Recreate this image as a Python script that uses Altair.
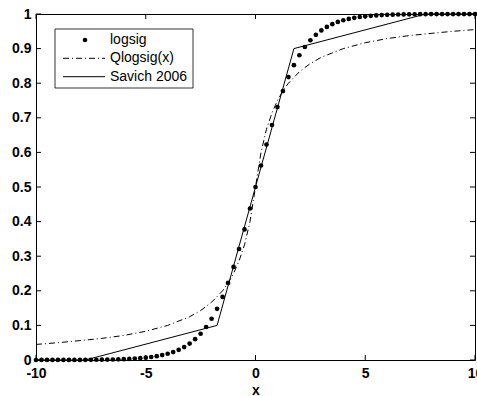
import altair as alt
import pandas as pd

# ---- data ----
x_logsig = [-10, -9.75, -9.5, -9.25, -9, -8.75, -8.5, -8.25, -8, -7.75,
            -7.5, -7.25, -7, -6.75, -6.5, -6.25, -6, -5.75, -5.5, -5.25,
            -5, -4.75, -4.5, -4.25, -4, -3.75, -3.5, -3.25, -3, -2.75,
            -2.5, -2.25, -2, -1.75, -1.5, -1.25, -1, -0.75, -0.5, -0.25,
            0,
            0.25, 0.5, 0.75, 1, 1.25, 1.5, 1.75, 2, 2.25, 2.5,
            2.75, 3, 3.25, 3.5, 3.75, 4, 4.25, 4.5, 4.75, 5,
            5.25, 5.5, 5.75, 6, 6.25, 6.5, 6.75, 7, 7.25, 7.5,
            7.75, 8, 8.25, 8.5, 8.75, 9, 9.25, 9.5, 9.75, 10]
y_logsig = [0.0000, 0.0001, 0.0001, 0.0001, 0.0001, 0.0002, 0.0002, 0.0003, 0.0003, 0.0004,
            0.0006, 0.0007, 0.0009, 0.0012, 0.0015, 0.0019, 0.0025, 0.0032, 0.0041, 0.0052,
            0.0067, 0.0086, 0.0110, 0.0141, 0.0180, 0.0230, 0.0293, 0.0373, 0.0474, 0.0601,
            0.0759, 0.0953, 0.1192, 0.1480, 0.1824, 0.2227, 0.2689, 0.3208, 0.3775, 0.4378,
            0.5,
            0.5622, 0.6225, 0.6792, 0.7311, 0.7773, 0.8176, 0.8520, 0.8808, 0.9047, 0.9241,
            0.9399, 0.9526, 0.9627, 0.9707, 0.9770, 0.9820, 0.9859, 0.9890, 0.9914, 0.9933,
            0.9948, 0.9959, 0.9968, 0.9975, 0.9981, 0.9985, 0.9988, 0.9991, 0.9993, 0.9994,
            0.9996, 0.9997, 0.9997, 0.9998, 0.9998, 0.9999, 0.9999, 0.9999, 0.9999, 1.0000]

x_qlogsig = [-10, -9, -8, -7, -6, -5, -4, -3, -2.5, -2, -1.5, -1.25, -1, -0.75, -0.5, -0.25,
             0, 0.25, 0.5, 0.75, 1, 1.25, 1.5, 2, 2.5, 3, 4, 5, 6, 7, 8, 9, 10]
y_qlogsig = [0.045, 0.05, 0.056, 0.0625, 0.071, 0.083, 0.1, 0.125, 0.143, 0.167, 0.2, 0.222,
             0.25, 0.286, 0.333, 0.4, 0.5, 0.6, 0.667, 0.714, 0.75, 0.778, 0.8, 0.833, 0.857,
             0.875, 0.9, 0.917, 0.929, 0.9375, 0.944, 0.95, 0.955]

x_savich = [-10, -7.75, -1.75, 1.75, 7.75, 10]
y_savich = [0, 0, 0.1, 0.9, 1.0, 1.0]

x_ticks = [-10, -5, 0, 5, 10]
y_ticks = [0, 0.1, 0.2, 0.3, 0.4, 0.5, 0.6, 0.7, 0.8, 0.9, 1]
legend_labels = ["logsig", "Qlogsig(x)", "Savich 2006"]

# ---- chart ----
W, H = 439, 346
FONT = "Liberation Sans"
xs = alt.Scale(domain=[-10, 10], nice=False, zero=False)
ys = alt.Scale(domain=[0, 1], nice=False, zero=False)

x_axis = alt.Axis(values=x_ticks, labelExpr="toString(datum.value)", labelFont=FONT,
                  labelFontWeight="bold", labelFontSize=14, labelColor="black",
                  tickSize=0, domain=False, grid=False, labelPadding=6,
                  labelFlush=False, labelOverlap=False,
                  title="x", titleFont=FONT, titleFontWeight="bold", titleFontSize=14,
                  titleColor="black", titlePadding=3)
y_axis = alt.Axis(values=y_ticks, labelExpr="toString(datum.value)", labelFont=FONT,
                  labelFontWeight="bold", labelFontSize=14, labelColor="black",
                  tickSize=0, domain=False, grid=False, labelPadding=5,
                  labelFlush=False, labelOverlap=False, title="")

X = lambda f: alt.X(f, scale=xs, axis=x_axis, title="x")
Y = lambda f: alt.Y(f, scale=ys, axis=y_axis, title="")

df_l = pd.DataFrame({"x": x_logsig, "y": y_logsig})
df_q = pd.DataFrame({"x": x_qlogsig, "y": y_qlogsig})
df_s = pd.DataFrame({"x": x_savich, "y": y_savich})

savich = alt.Chart(df_s).mark_line(color="black", strokeWidth=1).encode(
    x=X("x:Q"), y=Y("y:Q"))
qlog = alt.Chart(df_q).mark_line(color="black", strokeWidth=1, strokeDash=[6, 3, 1, 3]).encode(
    x=X("x:Q"), y=Y("y:Q"))
dots = alt.Chart(df_l).mark_circle(color="black", size=22, opacity=1).encode(
    x=X("x:Q"), y=Y("y:Q"))

dfx = pd.DataFrame({"x": x_ticks})
dfy = pd.DataFrame({"y": y_ticks})
tick_style = dict(color="black", strokeWidth=1)
xt_bot = alt.Chart(dfx).mark_rule(**tick_style).encode(
    x=X("x:Q"), y=alt.value(H), y2=alt.value(H - 5))
xt_top = alt.Chart(dfx).mark_rule(**tick_style).encode(
    x=X("x:Q"), y=alt.value(0), y2=alt.value(5))
yt_left = alt.Chart(dfy).mark_rule(**tick_style).encode(
    y=Y("y:Q"), x=alt.value(0), x2=alt.value(5))
yt_right = alt.Chart(dfy).mark_rule(**tick_style).encode(
    y=Y("y:Q"), x=alt.value(W), x2=alt.value(W - 5))

# ---- legend (manual, MATLAB style) ----
one = pd.DataFrame({"a": [0]})
leg_box = alt.Chart(one).mark_rect(fill="white", stroke="black", strokeWidth=0.8).encode(
    x=alt.value(19), x2=alt.value(157), y=alt.value(15), y2=alt.value(74))
row_y = [26, 44.3, 62.7]
leg_texts = []
for lab, ry in zip(legend_labels, row_y):
    leg_texts.append(
        alt.Chart(pd.DataFrame({"label": [lab]})).mark_text(
            align="left", baseline="middle", font=FONT, fontSize=14, color="black"
        ).encode(x=alt.value(74), y=alt.value(ry), text=alt.Text("label:N"))
    )
leg_dot = alt.Chart(one).mark_circle(color="black", size=22, opacity=1).encode(
    x=alt.value(49), y=alt.value(row_y[0]))
leg_dash = alt.Chart(one).mark_rule(color="black", strokeWidth=1, strokeDash=[6, 3, 1, 3]).encode(
    x=alt.value(27), x2=alt.value(69), y=alt.value(row_y[1]))
leg_solid = alt.Chart(one).mark_rule(color="black", strokeWidth=1).encode(
    x=alt.value(27), x2=alt.value(69), y=alt.value(row_y[2]))

chart = alt.layer(
    savich, qlog, dots, xt_bot, xt_top, yt_left, yt_right,
    leg_box, leg_dot, leg_dash, leg_solid, *leg_texts
).properties(
    width=W, height=H,
    padding={"left": 36, "top": 14, "right": 2, "bottom": 36},
    autosize=alt.AutoSizeParams(type="none"),
    background="white",
).configure_view(stroke="black", strokeWidth=1)

chart.save("out.html", embed_options={"renderer": "svg", "actions": False})
